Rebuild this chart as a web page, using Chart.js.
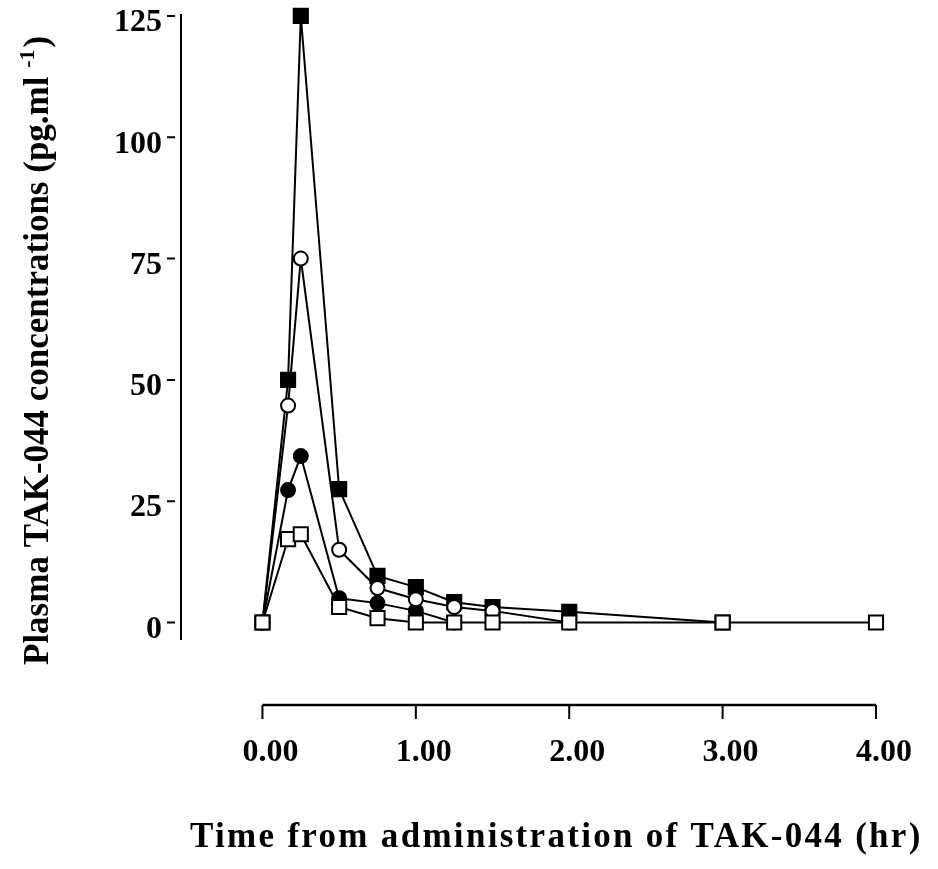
<!DOCTYPE html>
<html>
<head>
<meta charset="utf-8">
<script src="https://cdn.jsdelivr.net/npm/chart.js@4.4.0/dist/chart.umd.min.js"></script>
<style>
  html, body { margin: 0; padding: 0; background: #fff; }
</style>
</head>
<body>
<canvas id="chart" width="938" height="869"></canvas>
<script>
// sampling times (hr) and concentrations (pg/ml)
const times        = [0, 0.167, 0.25, 0.5, 0.75, 1.0, 1.25, 1.5, 2.0, 3.0, 4.0]
const filledSquare = [0, 50, 125, 27.5, 9.6, 7.3, 4.2, 3.2, 2.2, 0, null]
const openCircle   = [0, 44.7, 75, 15, 7.1, 4.8, 3.2, 2.4, 0, null, null]
const filledCircle = [0, 27.3, 34.3, 5, 4, 2.4, 0, null, null, null, null]
const openSquare   = [0, 17.2, 18.2, 3.2, 0.9, 0, 0, 0, 0, 0, 0]

const xTicks = [0, 1, 2, 3, 4]
const yTicks = [0, 25, 50, 75, 100, 125]

const xTitle = "Time from administration of TAK-044 (hr)"
const yTitle = "Plasma TAK-044 concentrations (pg.ml "
const yTitleSup = "-1"

const FONT = "'Liberation Serif', 'Times New Roman', serif"

const toPoints = vals => times.map((t, i) => ({ x: t, y: vals[i] })).filter(p => p.y != null)

const series = (data, style, fill) => ({
  data: toPoints(data),
  borderColor: "#000", borderWidth: 2,
  pointStyle: style,
  pointRadius: style === "rect" ? 10 : 7,
  pointHoverRadius: style === "rect" ? 10 : 7,
  pointBackgroundColor: fill, pointBorderColor: "#000", pointBorderWidth: 2,
  tension: 0, clip: false
})

const noScalePadding = s => { s.paddingLeft = s.paddingRight = s.paddingTop = s.paddingBottom = 0 }

// axes are drawn by hand: the x axis sits below the plot, detached from the y axis
const axesPlugin = {
  id: "axes",
  afterDraw(chart) {
    const { ctx, chartArea, scales: { x, y } } = chart
    ctx.save()
    ctx.strokeStyle = "#000"
    ctx.fillStyle = "#000"

    // y axis line and short ticks left of it
    ctx.lineWidth = 2
    ctx.beginPath()
    ctx.moveTo(chartArea.left, chartArea.top)
    ctx.lineTo(chartArea.left, chartArea.bottom)
    yTicks.forEach(v => {
      const py = y.getPixelForValue(v)
      ctx.moveTo(chartArea.left - 14, py)
      ctx.lineTo(chartArea.left - 6, py)
    })
    ctx.stroke()

    // x axis line with ticks hanging down
    const axisY = 705
    ctx.lineWidth = 2.5
    ctx.beginPath()
    ctx.moveTo(x.getPixelForValue(xTicks[0]), axisY)
    ctx.lineTo(x.getPixelForValue(xTicks[xTicks.length - 1]), axisY)
    ctx.stroke()
    ctx.lineWidth = 2
    ctx.beginPath()
    xTicks.forEach(v => {
      const px = x.getPixelForValue(v)
      ctx.moveTo(px, axisY)
      ctx.lineTo(px, axisY + 14)
    })
    ctx.stroke()

    // x title
    ctx.font = "bold 35px " + FONT
    ctx.letterSpacing = "2.3px"
    ctx.textAlign = "left"
    ctx.textBaseline = "alphabetic"
    ctx.fillText(xTitle, 190, 847)

    // y title, rotated, with superscript
    ctx.letterSpacing = "0px"
    ctx.translate(48, 665)
    ctx.rotate(-Math.PI / 2)
    ctx.font = "bold 35px " + FONT
    ctx.fillText(yTitle, 0, 0)
    let w = ctx.measureText(yTitle).width
    ctx.font = "bold 22px " + FONT
    ctx.fillText(yTitleSup, w, -14)
    w += ctx.measureText(yTitleSup).width
    ctx.font = "bold 35px " + FONT
    ctx.fillText(")", w + 2, 0)
    ctx.restore()
  }
}

new Chart(document.getElementById("chart"), {
  type: "line",
  data: {
    datasets: [
      series(openSquare, "rect", "#fff"),
      series(openCircle, "circle", "#fff"),
      series(filledCircle, "circle", "#000"),
      series(filledSquare, "rect", "#000")
    ]
  },
  options: {
    responsive: false, animation: false, devicePixelRatio: 1,
    layout: { padding: { top: 14, left: 0, right: 62, bottom: 0 } },
    plugins: { legend: { display: false }, tooltip: { enabled: false } },
    scales: {
      x: {
        type: "linear", min: -0.531, max: 4,
        afterBuildTicks: s => { s.ticks = xTicks.map(v => ({ value: v })) },
        afterFit: s => { s.height = 229; noScalePadding(s) },
        grid: { display: false, drawTicks: false },
        border: { display: false },
        ticks: {
          color: "#000", font: { family: FONT, size: 32, weight: "bold" },
          padding: 94, labelOffset: 8, maxRotation: 0, autoSkip: false,
          callback: v => v.toFixed(2)
        }
      },
      y: {
        min: -3.6, max: 125.4,
        afterBuildTicks: s => { s.ticks = yTicks.map(v => ({ value: v })) },
        afterFit: s => { s.width = 181; noScalePadding(s) },
        grid: { display: false, drawTicks: false },
        border: { display: false },
        ticks: {
          color: "#000", font: { family: FONT, size: 32, weight: "bold" },
          padding: 19, labelOffset: 7, autoSkip: false
        }
      }
    }
  },
  plugins: [axesPlugin]
})
</script>
</body>
</html>
